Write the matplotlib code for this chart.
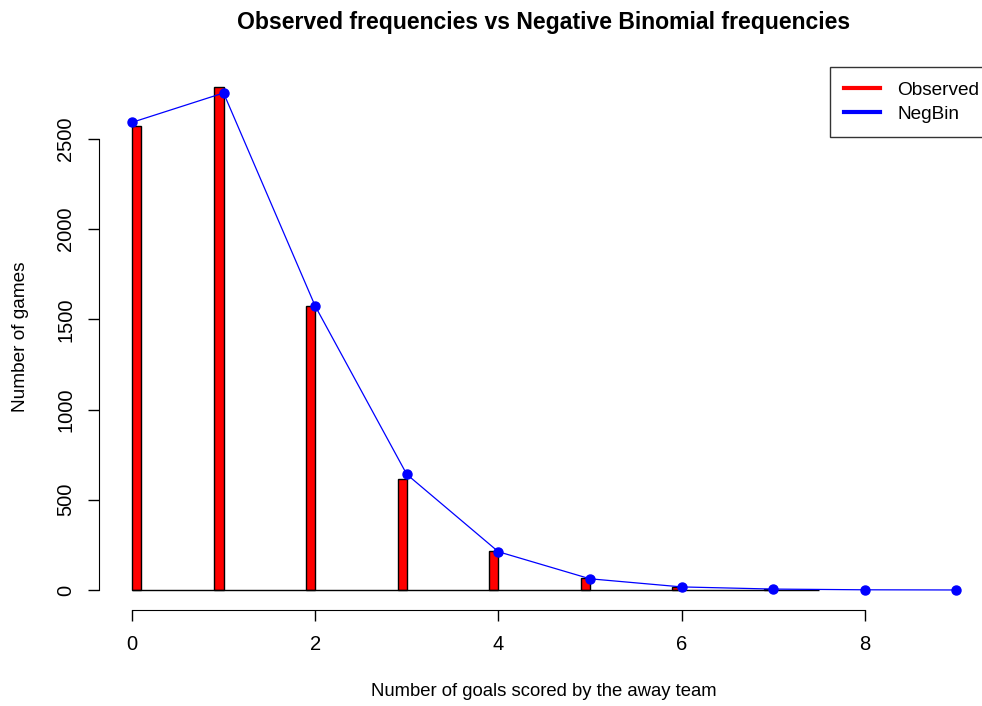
import numpy as np
import matplotlib
matplotlib.use("Agg")
import matplotlib.pyplot as plt
from matplotlib.lines import Line2D

plt.rcParams['font.family'] = ['Liberation Sans', 'DejaVu Sans']

# Data
goals_obs = np.array([0, 1, 2, 3, 4, 5, 6, 7])
observed = np.array([2570, 2788, 1572, 614, 215, 66, 15, 4])
goals_nb = np.array([0, 1, 2, 3, 4, 5, 6, 7, 8, 9])
negbin = np.array([2592, 2755, 1574, 641, 212, 62, 17, 5, 1, 0])

W, H = 982, 706
fig = plt.figure(figsize=(W / 100, H / 100), dpi=100)
ax = fig.add_axes([99 / W, (H - 610) / H, (W - 99) / W, (610 - 67) / H])

# bars sit just left of each integer (first one starts at 0)
bar_w = 0.1
lefts = np.maximum(goals_obs - bar_w, 0)
ax.bar(lefts, observed, width=bar_w, align='edge', color='red',
       edgecolor='black', linewidth=1, zorder=2)
ax.hlines(0, 0, 7.5, color='black', linewidth=1, zorder=2)

ax.plot(goals_nb, negbin, color='blue', linewidth=0.9, marker='o',
        markersize=6.5, zorder=3)

ax.set_xlim(-0.36, 9.28)
ax.set_ylim(-111, 2899)

for s in ['top', 'right']:
    ax.spines[s].set_visible(False)
ax.spines['bottom'].set_bounds(0, 8)
ax.spines['left'].set_bounds(0, 2500)
ax.set_xticks([0, 2, 4, 6, 8])
ax.set_yticks([0, 500, 1000, 1500, 2000, 2500])
ax.tick_params(length=8, width=1, labelsize=14.5)
ax.tick_params(axis='x', pad=10)
ax.tick_params(axis='y', pad=9)
plt.setp(ax.get_yticklabels(), rotation=90, va='center')

fig.text(544 / W, 1 - 692 / H, "Number of goals scored by the away team",
         ha='center', va='center', fontsize=13.3)
fig.text(21 / W, 1 - 337 / H, "Number of games", ha='center', va='center',
         rotation=90, fontsize=13.7)
fig.text(544 / W, 1 - 22 / H,
         "Observed frequencies vs Negative Binomial frequencies",
         ha='center', va='center', fontsize=16.6, fontweight='bold')

handles = [Line2D([], [], color='red', linewidth=3),
           Line2D([], [], color='blue', linewidth=3)]
leg = fig.legend(handles, ['Observed', 'NegBin'], loc='upper left',
                 bbox_to_anchor=(830 / W, 1 - 67 / H), fontsize=13.7,
                 frameon=True, fancybox=False, edgecolor='black',
                 handlelength=1.9, handletextpad=0.9, borderpad=0.75,
                 labelspacing=0.35, borderaxespad=0)
leg.get_frame().set_linewidth(1)

fig.savefig("out.png", dpi=100)
